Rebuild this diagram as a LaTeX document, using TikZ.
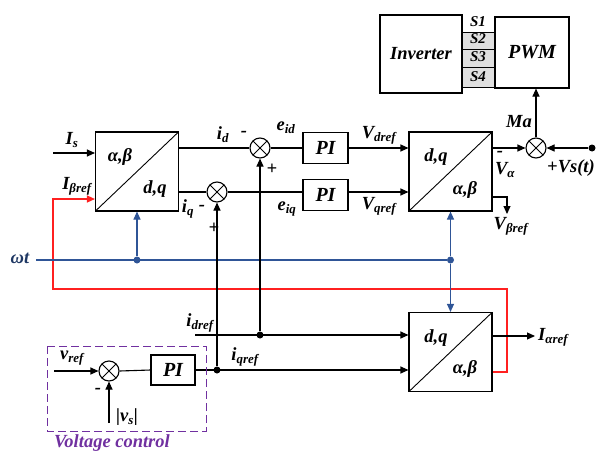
\documentclass[tikz,border=0pt]{standalone}
\usepackage{fontspec}
\setmainfont{Liberation Serif}
\usepackage{tikz}
\usetikzlibrary{arrows.meta,positioning}
\definecolor{wtblue}{HTML}{2F5597}
\definecolor{wtdark}{HTML}{1F3864}
\definecolor{refred}{HTML}{FF2020}
\definecolor{vcpurple}{HTML}{7030A0}

\begin{document}
\begin{tikzpicture}[
  x=1pt, y=-1pt,
  font=\fontsize{18.5}{20}\selectfont\bfseries\itshape,
  block/.style={draw, line width=1.1pt, minimum width=45pt, minimum height=31pt, inner sep=0pt},
  frame/.style={draw, line width=1.1pt, inner sep=0pt, minimum width=83pt, minimum height=79pt,
                path picture={\draw[line width=0.9pt] (path picture bounding box.south west)
                  -- (path picture bounding box.north east);}},
  sumj/.style={draw, line width=1.1pt, circle, minimum size=20pt, inner sep=0pt,
               path picture={\draw[line width=0.9pt]
                 (path picture bounding box.south west) -- (path picture bounding box.north east)
                 (path picture bounding box.north west) -- (path picture bounding box.south east);}},
  dot/.style={circle, fill, inner sep=0pt, minimum size=7pt},
  wire/.style={line width=1.1pt},
  sig/.style={wire, -{Triangle[length=8pt, width=7pt]}},
  tag/.style={inner sep=0pt},
  big/.style={font=\fontsize{20}{22}\selectfont\bfseries\itshape},
  small/.style={font=\fontsize{15}{17}\selectfont\bfseries\itshape}
]
  \useasboundingbox (0,0) rectangle (596,450);

  % inverter and pwm
  \node[block, minimum width=82pt, minimum height=78pt] (Inv) at (421,54) {Inverter};
  \node[block, big, minimum width=74pt, minimum height=71pt] (Pwm) at (532,52.5) {PWM};
  \fill[gray!25] (Inv.east |- 0,32) rectangle (Pwm.west |- 0,87);
  \foreach \yy/\nm [count=\k] in {32/S1, 49/S2, 67/S3, 87/S4} {
    \draw[line width=0.7pt] (Inv.east |- 0,\yy) -- (Pwm.west |- 0,\yy);
    \node[tag, small] (LS\k) at (478,\yy-10) {\nm};
  }

  % transforms
  \node[frame] (Tab) at (137,171.5) {};
  \node[tag] (Tab1) at (120,157) {α,β};
  \node[tag] (Tab2) at (155,189) {d,q};
  \node[frame] (Tdq) at (450.5,171.5) {};
  \node[tag] (Tdq1) at (436,157) {d,q};
  \node[tag] (Tdq2) at (465,190) {α,β};
  \node[frame] (Tout) at (450.5,352) {};
  \node[tag] (Tout1) at (436,338) {d,q};
  \node[tag] (Tout2) at (465,369) {α,β};

  % summing junctions and PI blocks
  \node[sumj] (Sd) at (260,148) {};
  \node[sumj] (Sq) at (217,192) {};
  \node[sumj] (Sa) at (536,148) {};
  \node[sumj] (Sv) at (109,371) {};
  \node[block, big] (PId) at (325.5,148) {PI};
  \node[block, big] (PIq) at (325.5,195) {PI};
  \node[block, big, minimum width=44pt, minimum height=30pt] (PIv) at (173,370) {PI};

  % points
  \coordinate (Is0) at (53,153);
  \coordinate (Ib0) at (53,199);
  \coordinate (W0) at (36,260);
  \coordinate (Vr0) at (54,371);
  \coordinate (Vs0) at (109,423);
  \coordinate (Id0) at (195,335);
  \coordinate (Vb1) at (507,214);
  \coordinate (Ia1) at (535,336);
  \node[dot] (Dvs) at (592,148) {};
  \node[dot, wtblue] (Dw1) at (Tab.south |- W0) {};
  \node[dot, wtblue] (Dw2) at (Tdq.south |- W0) {};
  \node[dot] (Dd) at (Sd.south |- Id0) {};
  \node[dot] (Dq) at (Sq.south |- PIv) {};

  % red feedback and blue angle
  \draw[sig, color=refred, line width=1.3pt] (Tout.east |- 0,372) -| (507,289) -| (Ib0) -- (Tab.west |- Ib0);
  \draw[wire, wtblue] (W0) -- (Dw2);
  \draw[sig, wtblue] (Dw1) -- (Tab.south);
  \draw[sig, wtblue] (Dw2) -- (Tdq.south);
  \draw[sig, wtblue] (Dw2) -- (Tout.north);

  % current loops
  \draw[sig] (Is0) -- (Tab.west |- Is0);
  \draw[wire] (Tab.east |- Sd) -- (Sd.west);
  \draw[wire] (Sd.east) -- (PId.west);
  \draw[sig] (PId.east) -- (Tdq.west |- PId);
  \draw[wire] (Tab.east |- Sq) -- (Sq.west);
  \draw[wire] (Sq.east) -- (PIq.west |- Sq);
  \draw[sig] (PIq.east |- Sq) -- (Tdq.west |- Sq);
  \draw[sig] (Dd) -- (Sd.south);
  \draw[sig] (Dq) -- (Sq.south);
  \draw[sig] (Id0) -- (Tout.west |- Id0);
  \draw[sig] (PIv.east) -- (Tout.west |- PIv);
  \draw[sig] (Tout.east |- Ia1) -- (Ia1);

  % output side
  \draw[sig] (Tdq.east |- Sa) -- (Sa.west);
  \draw[sig] (Dvs) -- (Sa.east);
  \draw[sig] (Sa.north) -- (Sa.north |- Pwm.south);
  \draw[sig] (Tdq.east |- 0,197) -| (Vb1);

  % voltage control
  \draw[vcpurple, line width=1pt, dash pattern=on 8pt off 4pt] (47,346) rectangle (206,431);
  \draw[sig] (Vr0) -- (Sv.west);
  \draw[sig] (Vs0) -- (Sv.south);
  \draw[wire] (Sv.east) -- (PIv.west);

  % labels
  \node[tag] (LIs) at (72,140) {I\textsubscript{s}};
  \node[tag] (LIb) at (77,186) {I\textsubscript{βref}};
  \node[tag, wtdark] (LW) at (20,258) {ωt};
  \node[tag] (Lid) at (223,135) {i\textsubscript{d}};
  \node[tag] (Lidm) at (244,134) {-};
  \node[tag] (Lidp) at (272,169) {+};
  \node[tag] (Leid) at (286,128) {e\textsubscript{id}};
  \node[tag] (Liq) at (188,209) {i\textsubscript{q}};
  \node[tag] (Liqm) at (202,208) {-};
  \node[tag] (Liqp) at (214,228) {+};
  \node[tag] (Leiq) at (287,209) {e\textsubscript{iq}};
  \node[tag] (LVd) at (379,135) {V\textsubscript{dref}};
  \node[tag] (LVq) at (379,206) {V\textsubscript{qref}};
  \node[tag] (LMa) at (519,122) {Ma};
  \node[tag] (LVam) at (500,154) {-};
  \node[tag] (LVa) at (505,170) {V\textsubscript{α}};
  \node[tag, anchor=west] (LVs) at (547,168) {+Vs(t)};
  \node[tag] (LVb) at (511,226) {V\textsubscript{βref}};
  \node[tag] (Lidr) at (200,323) {i\textsubscript{dref}};
  \node[tag] (Liqr) at (245,357) {i\textsubscript{qref}};
  \node[tag, anchor=west] (LIa) at (538,337) {I\textsubscript{αref}};
  \node[tag] (Lvr) at (72,358) {v\textsubscript{ref}};
  \node[tag] (Lvm) at (98,391) {-};
  \node[tag] (Lvs) at (127,417) {|v\textsubscript{s}|};
  \node[tag, vcpurple] (Lvc) at (112,443) {Voltage control};
\end{tikzpicture}
\end{document}
